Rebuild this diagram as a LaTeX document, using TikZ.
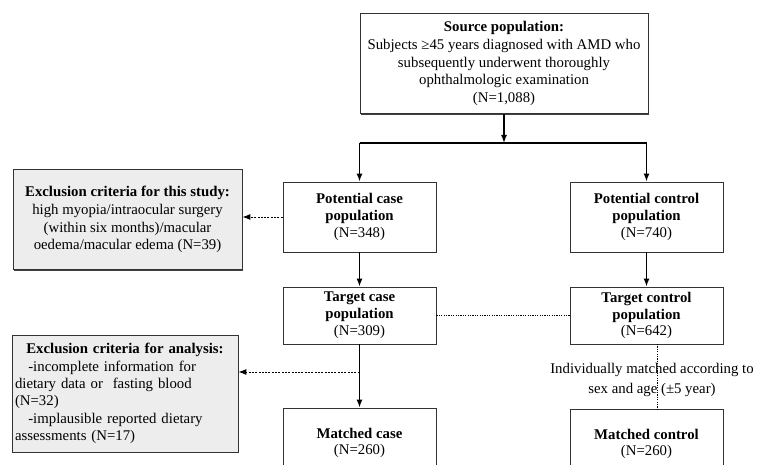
\documentclass[tikz,border=0pt]{standalone}
\usepackage{fontspec}
\setmainfont{Liberation Serif}
\usetikzlibrary{arrows.meta,shadows}
\begin{document}
\begin{tikzpicture}[x=1pt,y=-1pt,
  box/.style={draw=black!80,line width=0.8pt,fill=white,inner sep=2pt,align=center,
    font=\fontsize{14.8}{16.8}\selectfont,
    drop shadow={shadow xshift=1.3pt,shadow yshift=-1.3pt,fill=black!75,opacity=1}},
  smallbox/.style={box,minimum width=153pt,minimum height=70pt},
  midbox/.style={box,minimum width=153pt,minimum height=57pt},
  exbox/.style={box,fill=black!7},
  arr/.style={line width=1.4pt,-{Latex[length=8pt,width=6pt]}},
  darr/.style={line width=0.9pt,dash pattern=on 2pt off 1.3pt,-{Latex[length=8pt,width=6pt]}},
  dotl/.style={line width=0.9pt,dash pattern=on 1.2pt off 1.2pt}]
\useasboundingbox (0,0) rectangle (757,465);
\clip (0,0) rectangle (757,465);

\node[box,minimum width=288pt,minimum height=100pt,font=\fontsize{14.8}{17.7}\selectfont] (src) at (504,63.5)
  {\textbf{Source population:}\\Subjects ≥45 years diagnosed with AMD who\\subsequently underwent thoroughly\\ophthalmologic examination\\(N=1,088)};

\node[smallbox] (pcase) at (359.5,217) {\textbf{Potential case}\\\textbf{population}\\(N=348)};
\node[smallbox] (pctrl) at (646.5,217) {\textbf{Potential control}\\\textbf{population}\\(N=740)};

\node[midbox] (tcase) at (359.5,315.5) {\textbf{Target case}\\\textbf{population}\\(N=309)};
\node[midbox] (tctrl) at (646.5,315.5) {\textbf{Target control}\\\textbf{population}\\(N=642)};

\node[smallbox] (mcase) at (359.5,443) {\textbf{Matched case}\\(N=260)};
\node[smallbox] (mctrl) at (646.5,444) {\textbf{Matched control}\\(N=260)};

\node[exbox,minimum width=229pt,minimum height=100pt,font=\fontsize{14.8}{17.9}\selectfont] (ex1) at (127.5,219.5)
  {\textbf{Exclusion criteria for this study:}\\high myopia/intraocular surgery\\(within six months)/macular\\oedema/macular edema (N=39)};

\node[exbox,minimum width=226pt,minimum height=117pt,text width=220pt,align=left,
  inner sep=3pt,font=\fontsize{14.8}{17.4}\selectfont] (ex2) at (125,393.5)
  {{\centering\textbf{Exclusion criteria for analysis:}\par}
   \hspace*{0.9em}-incomplete information for\\
   dietary data or\ \ fasting blood\\
   (N=32)\\
   \hspace*{0.9em}-implausible reported dietary\\
   assessments (N=17)};

\coordinate (split) at (504,143);
\coordinate (sl) at (pcase.north |- split);
\coordinate (sr) at (pctrl.north |- split);
\draw[arr] (src.south) -- (split);
\draw[line width=1.4pt] (sl) -- (sr);
\draw[arr] (sl) -- (pcase.north);
\draw[arr] (sr) -- (pctrl.north);

\draw[arr] (pcase) -- (tcase);
\draw[arr] (pctrl) -- (tctrl);
\draw[arr] (tcase) -- (mcase);

\draw[darr] (pcase.west) -- (ex1.east |- pcase.west);
\coordinate (br) at (359.5,372);
\draw[darr] (br) -- (ex2.east |- br);

\draw[dotl] (tcase.east) -- (tctrl.west);
\coordinate (mt) at (657,344);
\coordinate (mb) at (657,409);
\draw[dotl] (mt) -- (mb);
\node[font=\fontsize{14.8}{20}\selectfont,align=center,inner sep=0pt] (lbl) at (652,380)
  {Individually matched according to\\sex and age (±5 year)};
\end{tikzpicture}
\end{document}
